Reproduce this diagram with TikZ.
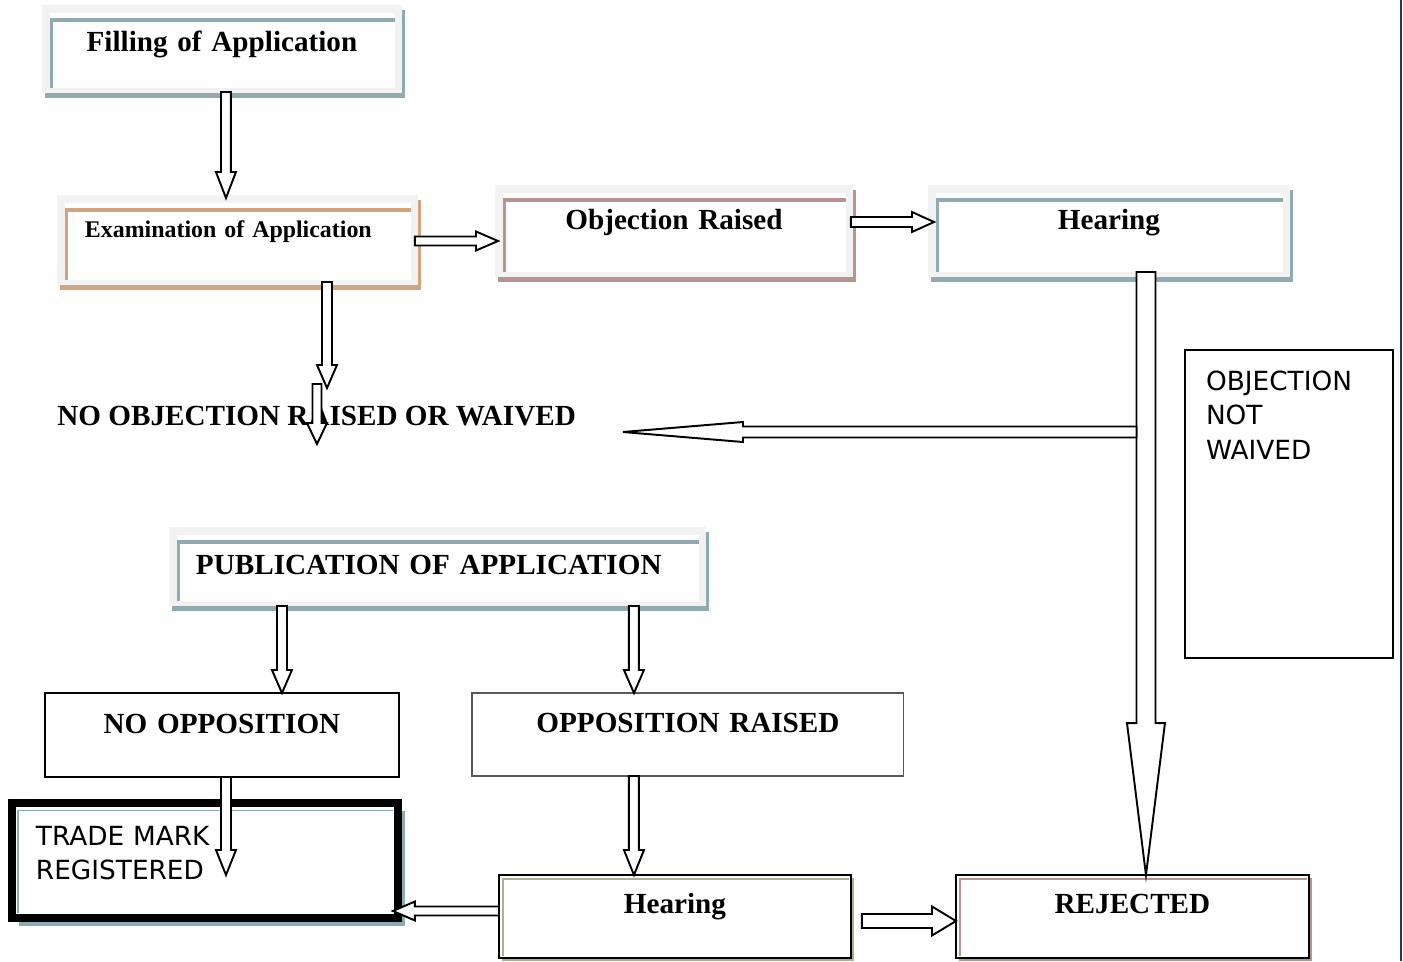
\documentclass[tikz,border=0pt]{standalone}
\usepackage{fontspec}
\setmainfont{Liberation Serif}
\newfontfamily\tahoma{DejaVu Sans}
\usepackage{xcolor}
\usepackage{tikz}
\usetikzlibrary{calc,shadows}

\definecolor{framegrey}{RGB}{242,242,242}
\definecolor{steel}{RGB}{143,170,179}
\definecolor{clay}{RGB}{210,163,125}
\definecolor{rosy}{RGB}{183,148,146}
\definecolor{sage}{RGB}{170,178,150}
\definecolor{navyline}{RGB}{31,56,100}

% hollow block arrow: tail, tip, shaft half-width, head half-width, head length
\newcommand{\blockarrow}[5]{%
  \coordinate (ba-t) at #1;
  \coordinate (ba-h) at #2;
  \coordinate (ba-b) at ($(ba-h)!#5!(ba-t)$);
  \draw[hollow] ($(ba-t)!#3!90:(ba-h)$) -- ($(ba-b)!#3!-90:(ba-t)$)
    -- ($(ba-b)!#4!-90:(ba-t)$) -- (ba-h) -- ($(ba-b)!#4!90:(ba-t)$)
    -- ($(ba-b)!#3!90:(ba-t)$) -- ($(ba-t)!#3!-90:(ba-h)$) -- cycle;}

\begin{document}
\begin{tikzpicture}[x=0.02cm, y=-0.02cm,
  panel/.style={rectangle, fill=framegrey, inner sep=0pt, outer sep=0pt, align=center,
    general shadow={fill=#1, shadow xshift=0.06cm, shadow yshift=-0.1cm},
    path picture={
      \fill[white] ([shift={(0.16cm,0.1cm)}]path picture bounding box.south west)
        rectangle ([shift={(-0.14cm,-0.16cm)}]path picture bounding box.north east);
      \draw[#1, line width=1.9pt] ([shift={(0.19cm,0.1cm)}]path picture bounding box.south west)
        |- ([shift={(-0.14cm,-0.3cm)}]path picture bounding box.north east);}},
  plain/.style={rectangle, draw=black, line width=1.1pt, fill=white, inner sep=0pt, outer sep=0pt, align=center},
  edged/.style={plain, line width=1.3pt,
    general shadow={fill=#1, shadow xshift=0.06cm, shadow yshift=-0.06cm},
    path picture={
      \draw[#1, line width=1.1pt] ([shift={(0.08cm,0.05cm)}]path picture bounding box.south west)
        |- ([shift={(-0.04cm,-0.08cm)}]path picture bounding box.north east);}},
  thickbox/.style={plain, line width=4.5pt,
    general shadow={fill=steel, shadow xshift=0.14cm, shadow yshift=-0.16cm},
    path picture={
      \draw[steel, line width=1.1pt] ([shift={(0.12cm,0.1cm)}]path picture bounding box.south west)
        |- ([shift={(-0.1cm,-0.15cm)}]path picture bounding box.north east);}},
  bigtext/.style={font=\fontsize{16.6}{20}\selectfont\bfseries},
  sanstext/.style={font=\tahoma\fontsize{15}{19.8}\selectfont},
  hollow/.style={draw=black, fill=white, line width=1.1pt, line join=miter}
]
\useasboundingbox (0,0) rectangle (1403,961);

% Top row
\node[panel=steel, bigtext, anchor=north west, text width=7.2cm, text height=0.94cm, text depth=0.82cm] (fill) at (42,5) {Filling of Application};
\node[panel=clay, font=\fontsize{13.6}{16}\selectfont\bfseries, anchor=north west, align=left, inner xsep=0.56cm, text width=6.1cm, text height=0.84cm, text depth=0.96cm] (exam) at (57,195) {Examination of Application};
\node[panel=rosy, bigtext, anchor=north west, text width=7.16cm, text height=0.9cm, text depth=0.94cm] (obj) at (495,185) {Objection Raised};
\node[panel=steel, bigtext, anchor=north west, text width=7.24cm, text height=0.9cm, text depth=0.94cm] (hear) at (928,185) {Hearing};

% Middle
\node[bigtext, anchor=base west, inner sep=0pt] (noobj) at (57,425) {NO OBJECTION RAISED OR WAIVED};
\node[plain, sanstext, anchor=north west, align=left, inner xsep=0.42cm, text width=3.32cm, text height=0.8cm, text depth=5.36cm] (notwaived) at (1185,350) {OBJECTION\\NOT\\WAIVED};

% Publication and opposition
\node[panel=steel, bigtext, anchor=north west, align=left, inner xsep=0.54cm, text width=9.66cm, text height=0.94cm, text depth=0.64cm] (pub) at (169,527) {PUBLICATION OF APPLICATION};
\node[plain, bigtext, anchor=north west, text width=7.08cm, text height=0.8cm, text depth=0.88cm] (noopp) at (45,693) {NO OPPOSITION};
\node[plain, draw=black!65, line width=0.6pt, bigtext, anchor=north west, text width=8.64cm, text height=0.78cm, text depth=0.88cm] (oppr) at (472,693) {OPPOSITION RAISED};

% Bottom row
\node[thickbox, sanstext, anchor=north west, align=left, inner xsep=0.48cm, text width=6.76cm, text height=0.84cm, text depth=1.46cm] (trade) at (12,803) {TRADE MARK\\REGISTERED};
\node[edged=sage, bigtext, anchor=north west, text width=7.04cm, text height=0.76cm, text depth=0.9cm] (hear2) at (499,875) {Hearing};
\node[edged=rosy, bigtext, anchor=north west, text width=7.06cm, text height=0.76cm, text depth=0.9cm] (rej) at (956,875) {REJECTED};

% Free ends
\coordinate (dtip) at (327,388);
\coordinate (etail) at (317,384);
\coordinate (etip) at (317,444);
\coordinate (fjoin) at (1136.5,432);
\coordinate (gtip) at (623,432);
\coordinate (regtip) at (226,875);

% Arrows
\blockarrow{($(fill.south)+(4,-1)$)}{($(fill.south|-exam.north)+(4,3)$)}{0.1cm}{0.2cm}{0.52cm}
\blockarrow{($(exam.east)+(-3,1)$)}{($(obj.west|-exam.east)+(3,1)$)}{0.09cm}{0.19cm}{0.44cm}
\blockarrow{($(obj.east)+(-2,-9)$)}{($(hear.west|-obj.east)+(6,-9)$)}{0.1cm}{0.2cm}{0.44cm}
\blockarrow{($(exam.south)+(89.5,-3)$)}{(dtip)}{0.1cm}{0.2cm}{0.46cm}
\blockarrow{(etail)}{(etip)}{0.09cm}{0.2cm}{0.42cm}
\blockarrow{($(hear.south)+(37,-5)$)}{($(hear.south|-rej.north)+(37,0)$)}{0.19cm}{0.38cm}{3.04cm}
\blockarrow{(fjoin)}{(gtip)}{0.11cm}{0.2cm}{2.4cm}
\blockarrow{($(pub.south-|noopp.north)+(60,0)$)}{($(noopp.north)+(60,0)$)}{0.1cm}{0.2cm}{0.46cm}
\blockarrow{($(pub.south-|oppr.north)+(-54,0)$)}{($(oppr.north)+(-54,0)$)}{0.1cm}{0.2cm}{0.46cm}
\blockarrow{($(noopp.south)+(4,0)$)}{(regtip)}{0.1cm}{0.2cm}{0.5cm}
\blockarrow{($(oppr.south)+(-54,0)$)}{($(oppr.south|-hear2.north)+(-54,0)$)}{0.1cm}{0.2cm}{0.5cm}
\blockarrow{($(hear2.west)+(0,-5.5)$)}{($(trade.east|-hear2.west)+(-5,-5.5)$)}{0.09cm}{0.19cm}{0.44cm}
\blockarrow{($(hear2.east)+(11,4.5)$)}{($(rej.west)+(0,4.5)$)}{0.14cm}{0.29cm}{0.48cm}

% Page edge
\draw[navyline, line width=1.2pt] (1401,0) -- (1401,961);
\end{tikzpicture}
\end{document}
